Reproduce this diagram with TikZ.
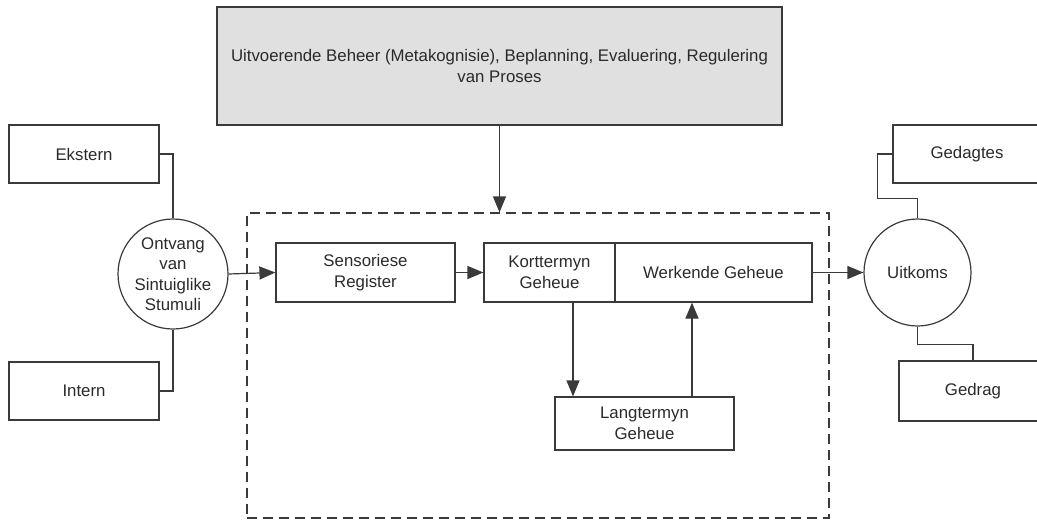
\documentclass[tikz,border=0pt]{standalone}
\usepackage{fontspec}
\setmainfont{Liberation Sans}
\usetikzlibrary{arrows.meta}
\definecolor{ln}{HTML}{3A3A3A}
\definecolor{tx}{HTML}{2A2A2A}
\definecolor{grayfill}{HTML}{E0E0E0}
\tikzset{
  every node/.style={font=\fontsize{16.8pt}{20.5pt}\selectfont, text=tx},
  box/.style={draw=ln, line width=1.2pt, rectangle, inner sep=0pt, align=center},
  circ/.style={draw=ln, line width=1.2pt, circle, inner sep=0pt, align=center},
  conn/.style={draw=ln, line width=1.2pt},
  arr/.style={conn, -{Triangle[length=16pt,width=13pt]}},
  frame/.style={draw=ln, line width=1.2pt, dash pattern=on 10pt off 6pt, rectangle, inner sep=0pt}
}
\begin{document}
\begin{tikzpicture}[x=1pt,y=-1pt]
\useasboundingbox (0,0) rectangle (1037,520);
\clip (0,0) rectangle (1037,520);
% frame
\node[frame, minimum width=582pt, minimum height=305pt] (frm) at (538,365.5) {};
% top box
\node[box, fill=grayfill, minimum width=565pt, minimum height=118pt] (top) at (499.5,66)
  {Uitvoerende Beheer (Metakognisie), Beplanning, Evaluering, Regulering\\van Proses};
% left
\node[box, minimum width=150pt, minimum height=58pt] (eks) at (84,154) {Ekstern};
\node[box, minimum width=150pt, minimum height=58pt] (int) at (84,391) {Intern};
\node[circ, minimum size=110pt] (c1) at (173,274) {Ontvang\\van\\Sintuiglike\\Stumuli};
% middle
\node[box, minimum width=179pt, minimum height=59pt] (sens) at (365.5,272.5) {Sensoriese\\Register};
\node[box, minimum width=131pt, minimum height=59pt] (kort) at (549.5,272.5) {Korttermyn\\Geheue};
\node[box, minimum width=197pt, minimum height=59pt] (werk) at (713.5,272.5) {Werkende Geheue};
\node[box, minimum width=179pt, minimum height=53pt] (lang) at (644.5,423.5) {Langtermyn\\Geheue};
% right
\node[circ, minimum size=107pt] (c2) at (917.5,272.5) {Uitkoms};
\node[box, minimum width=148pt, minimum height=58pt] (ged) at (967,154) {Gedagtes};
\node[box, minimum width=148pt, minimum height=60pt] (gdr) at (973,391) {Gedrag};
% connectors
\draw[conn] (eks.east) -| (c1.north);
\draw[conn] (int.east) -| (c1.south);
\draw[arr] (c1.east) -- (sens.west);
\draw[arr] (sens.east) -- (kort.west);
\draw[arr] ([xshift=23.5pt]kort.south) -- ([xshift=23.5pt]kort.south |- lang.north);
\draw[arr] ([xshift=47.5pt]lang.north) -- ([xshift=47.5pt]lang.north |- werk.south);
\draw[arr] (werk.east) -- (c2.west);
\draw[arr] (top.south) -- (top.south |- frm.north);
\draw[conn] (ged.west) -- ++(-15pt,0pt) |- ([yshift=20pt]c2.north) -- (c2.north);
\draw[conn] (c2.south) -- ++(0pt,-18pt) -| (gdr.north);
\end{tikzpicture}
\end{document}
